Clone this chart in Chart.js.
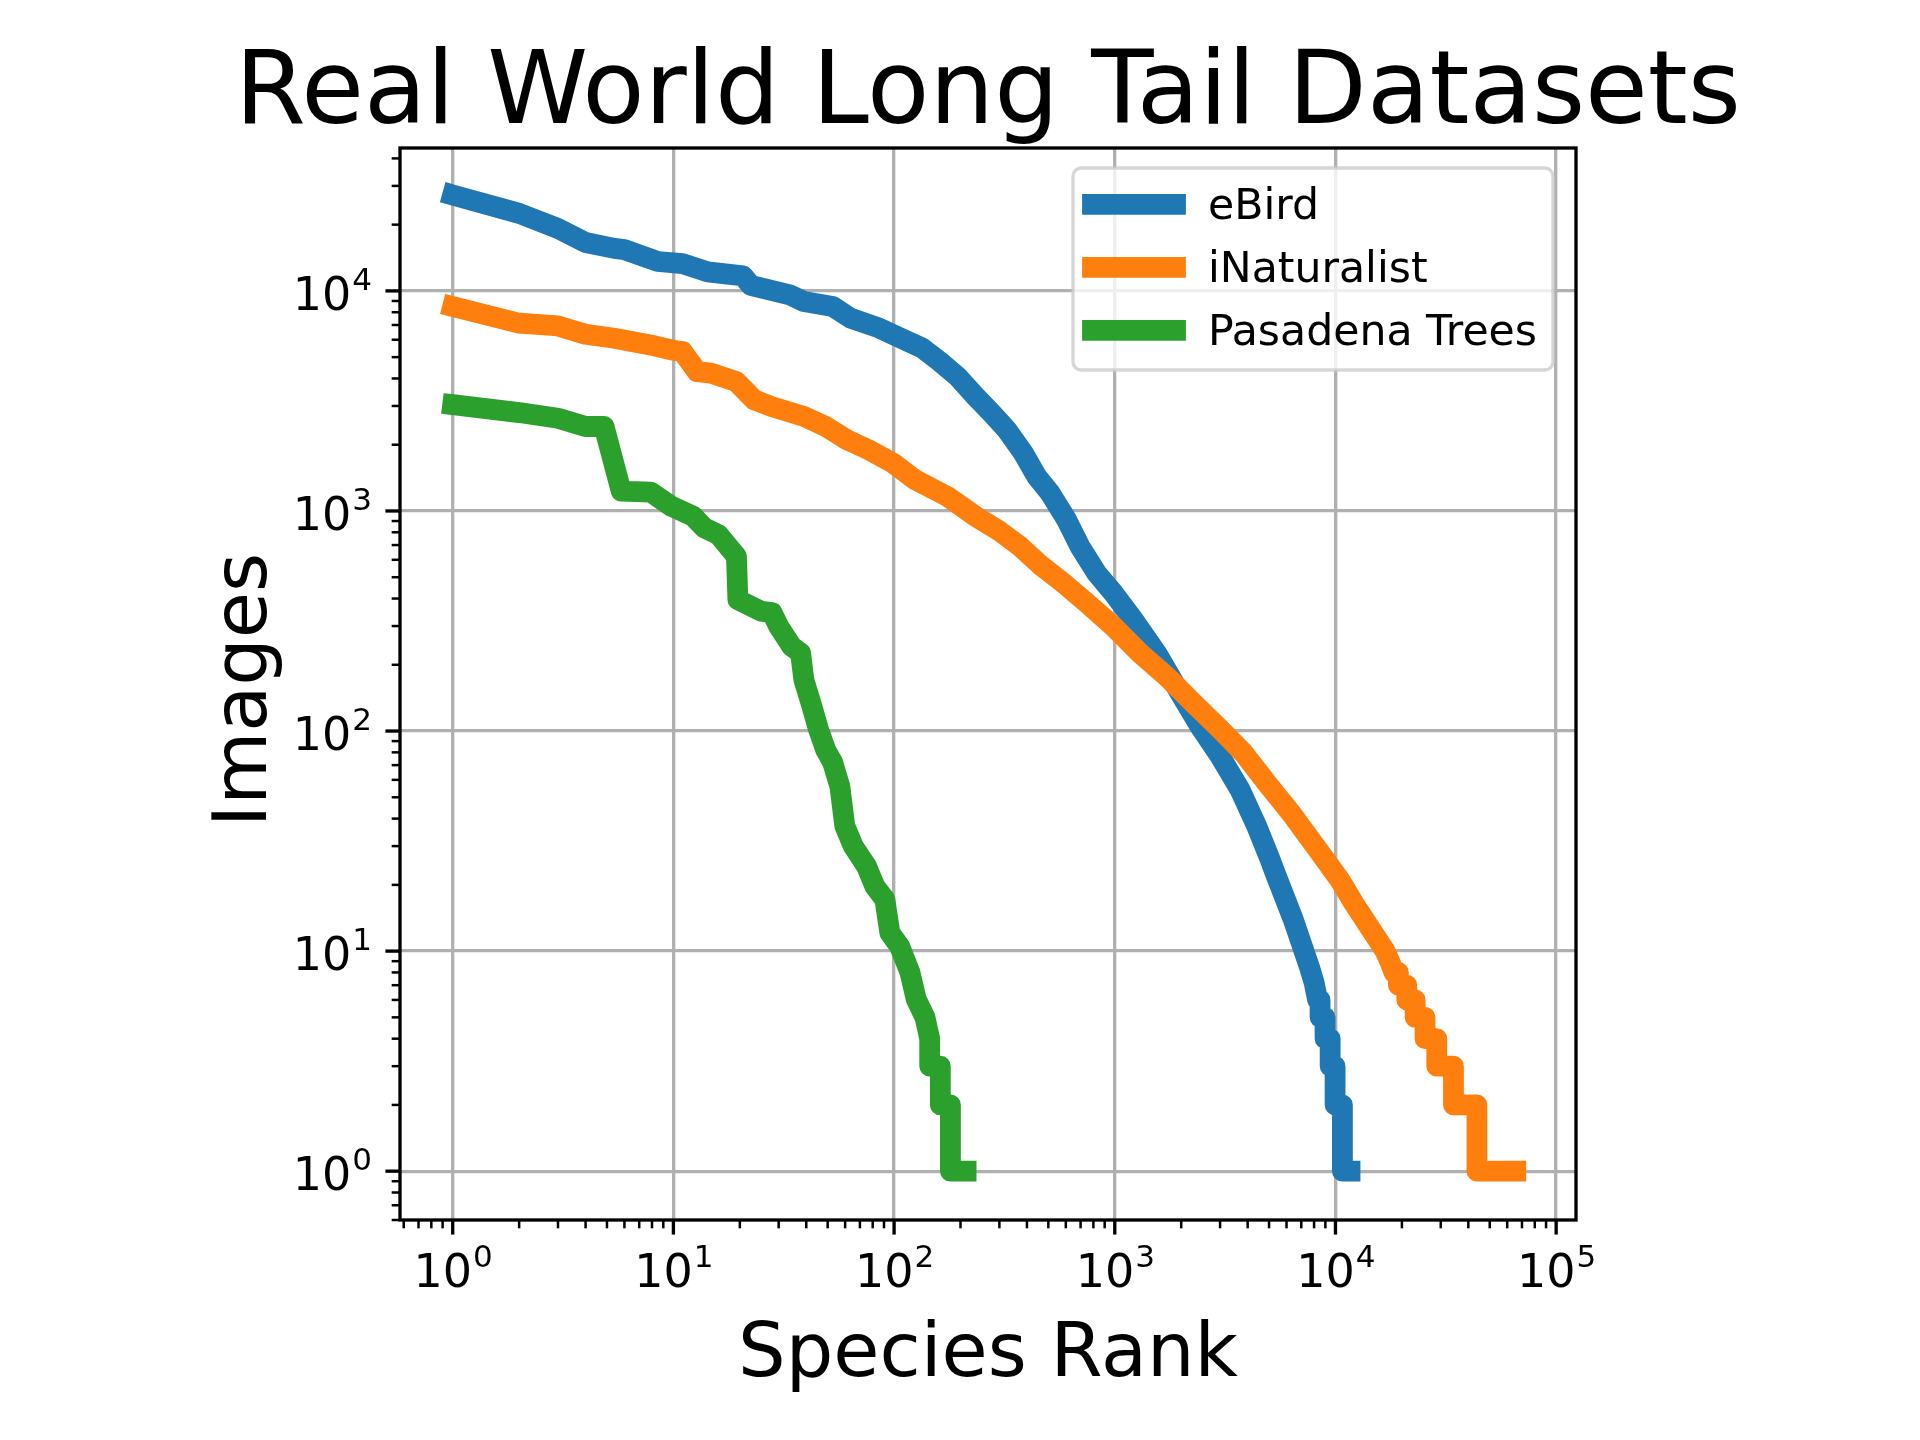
<!DOCTYPE html>
<html>
<head>
<meta charset="utf-8">
<script src="https://cdn.jsdelivr.net/npm/chart.js@4"></script>
<style>
  html, body { margin: 0; padding: 0; background: #ffffff; }
  #wrap { width: 1920px; height: 1440px; position: relative; }
  canvas { display: block; }
</style>
</head>
<body>
<div id="wrap"><canvas id="c" width="1920" height="1440"></canvas></div>
<script>
// ---------------- data ----------------
const chartTitle = 'Real World Long Tail Datasets';
const xAxisLabel = 'Species Rank';
const yAxisLabel = 'Images';
const seriesNames = ['eBird', 'iNaturalist', 'Pasadena Trees'];
const seriesColors = ['#1f77b4', '#ff7f0e', '#2ca02c'];

const ebirdRank = [1, 2, 3, 4, 5.4, 6, 8.5, 11, 14.3, 20.7, 22.4, 33.7, 39, 52.7, 63.5, 85.6, 103, 134, 161, 194, 234, 277, 324, 385, 443, 509, 605, 695, 827, 985, 1212, 1548, 1974, 2432, 3000, 3692, 4396, 5054, 5324, 6440, 7670, 8000, 8300, 8515, 8515, 8970, 8970, 9460, 9460, 9960, 9960, 10750, 10750, 11640];
const ebirdImages = [27300, 22500, 19200, 16600, 15600, 15400, 13600, 13300, 12200, 11700, 10600, 9600, 8950, 8500, 7520, 6780, 6210, 5500, 4780, 4080, 3310, 2780, 2340, 1833, 1435, 1206, 912, 690, 522, 424, 321, 226, 149, 105, 76.9, 54.2, 37.0, 26.1, 22.7, 13.9, 8.3, 7.2, 6, 6, 5, 5, 4, 4, 3, 3, 2, 2, 1, 1];

const inatRank = [1, 2, 3, 4, 5.4, 8.2, 9.8, 11, 12.8, 14.8, 19.3, 23.2, 27.9, 39, 49, 61, 76.5, 99, 124, 174, 234, 302, 372, 458, 584, 746, 985, 1300, 1718, 2270, 3000, 3826, 4880, 6440, 8510, 10480, 12060, 16800, 17600, 18400, 19280, 19280, 21050, 21050, 22960, 22960, 25470, 25470, 28770, 28770, 34250, 34250, 43750, 43750, 65620];
const inatImages = [8490, 7130, 6930, 6350, 6090, 5630, 5390, 5300, 4300, 4230, 3870, 3200, 2980, 2690, 2420, 2110, 1900, 1650, 1390, 1165, 945, 807, 690, 570, 471, 382, 299, 226, 177, 134, 102, 79.6, 58.2, 41.1, 28, 21, 16.6, 10, 9, 8, 8, 7, 7, 6, 6, 5, 5, 4, 4, 3, 3, 2, 2, 1, 1];

const treesRank = [1, 2, 3, 4, 4.85, 5.8, 7.9, 9.8, 12.3, 13.8, 16, 19.3, 19.6, 25, 28, 30, 34.3, 37.7, 39, 42, 45.4, 49, 52.7, 56.8, 59.8, 65.3, 75, 81.8, 90.8, 95.7, 106, 118, 126, 138, 145, 145, 162, 162, 180, 180, 212];
const treesImages = [3040, 2800, 2640, 2420, 2420, 1230, 1217, 1050, 946, 838, 780, 622, 395, 350, 345, 299, 243, 226, 171, 134, 102, 82, 72, 56, 37, 30, 24.3, 19.7, 17.2, 12.1, 10.5, 8.0, 6.04, 5, 4, 3, 3, 2, 2, 1, 1];

const xTickExponents = [0, 1, 2, 3, 4, 5];
const yTickExponents = [0, 1, 2, 3, 4];
const xRange = [0.577, 123000];
const yRange = [0.6, 44600];

// ---------------- build ----------------
const toPoints = (rx, ry) => rx.map((r, i) => ({ x: r, y: ry[i] }));
const seriesData = [
  toPoints(ebirdRank, ebirdImages),
  toPoints(inatRank, inatImages),
  toPoints(treesRank, treesImages)
];

const FONT = '"DejaVu Sans", "Liberation Sans", sans-serif';
const LW = 20.8;

const datasets = seriesNames.map((name, i) => ({
  label: name,
  data: seriesData[i],
  borderColor: seriesColors[i],
  backgroundColor: seriesColors[i],
  borderWidth: LW,
  borderCapStyle: 'square',
  borderJoinStyle: 'round',
  pointRadius: 0,
  pointHoverRadius: 0,
  tension: 0,
  fill: false,
  order: seriesNames.length - i
}));

function drawPow(ctx, exp, x, baseline, align) {
  ctx.font = '46px ' + FONT;
  const w1 = ctx.measureText('10').width;
  ctx.font = '31px ' + FONT;
  const w2 = ctx.measureText(String(exp)).width;
  const total = w1 + w2;
  const x0 = align === 'center' ? x - total / 2 : x - total;
  ctx.textAlign = 'left';
  ctx.textBaseline = 'alphabetic';
  ctx.fillStyle = '#000';
  ctx.font = '46px ' + FONT;
  ctx.fillText('10', x0, baseline);
  ctx.font = '31px ' + FONT;
  ctx.fillText(String(exp), x0 + w1 + 1, baseline - 20);
}

const decor = {
  id: 'decor',
  afterDraw(chart) {
    const { ctx, chartArea: a, scales } = chart;
    const xs = scales.x, ys = scales.y;
    ctx.save();

    // spines
    ctx.strokeStyle = '#000';
    ctx.lineWidth = 3.33;
    ctx.strokeRect(a.left, a.top, a.right - a.left, a.bottom - a.top);

    // tick marks (major + minor)
    const ticksFor = (scale, horizontal) => {
      const lo = Math.floor(Math.log10(scale.min)), hi = Math.ceil(Math.log10(scale.max));
      for (let e = lo; e <= hi; e++) {
        for (let m = 1; m <= 9; m++) {
          const v = m * Math.pow(10, e);
          if (v < scale.min * 0.9999 || v > scale.max * 1.0001) continue;
          const major = m === 1;
          const p = scale.getPixelForValue(v);
          const len = major ? 14.58 : 8.33;
          ctx.lineWidth = major ? 3.33 : 2.5;
          ctx.beginPath();
          if (horizontal) { ctx.moveTo(p, a.bottom); ctx.lineTo(p, a.bottom + len); }
          else { ctx.moveTo(a.left, p); ctx.lineTo(a.left - len, p); }
          ctx.stroke();
        }
      }
    };
    ticksFor(xs, true);
    ticksFor(ys, false);

    // tick labels
    xTickExponents.forEach(e => {
      drawPow(ctx, e, xs.getPixelForValue(Math.pow(10, e)), a.bottom + 67, 'center');
    });
    yTickExponents.forEach(e => {
      drawPow(ctx, e, a.left - 29, ys.getPixelForValue(Math.pow(10, e)) + 19, 'right');
    });

    const cx = (a.left + a.right) / 2;
    ctx.fillStyle = '#000';
    // title
    ctx.font = '102px ' + FONT;
    ctx.textAlign = 'center';
    ctx.textBaseline = 'alphabetic';
    ctx.fillText(chartTitle, cx, a.top - 25);
    // x label
    ctx.font = '75px ' + FONT;
    ctx.fillText(xAxisLabel, cx, a.bottom + 156);
    // y label
    ctx.save();
    ctx.translate(266, (a.top + a.bottom) / 2 + 6);
    ctx.rotate(-Math.PI / 2);
    ctx.fillText(yAxisLabel, 0, 0);
    ctx.restore();

    // legend
    const bx = 1073, by = 168, bw = 480, bh = 202, r = 8.3;
    ctx.beginPath();
    ctx.moveTo(bx + r, by);
    ctx.lineTo(bx + bw - r, by);
    ctx.arcTo(bx + bw, by, bx + bw, by + r, r);
    ctx.lineTo(bx + bw, by + bh - r);
    ctx.arcTo(bx + bw, by + bh, bx + bw - r, by + bh, r);
    ctx.lineTo(bx + r, by + bh);
    ctx.arcTo(bx, by + bh, bx, by + bh - r, r);
    ctx.lineTo(bx, by + r);
    ctx.arcTo(bx, by, bx + r, by, r);
    ctx.closePath();
    ctx.fillStyle = 'rgba(255,255,255,0.8)';
    ctx.fill();
    ctx.strokeStyle = 'rgba(204,204,204,0.8)';
    ctx.lineWidth = 3.33;
    ctx.stroke();

    seriesNames.forEach((name, i) => {
      const yy = 204.3 + i * 63;
      ctx.strokeStyle = seriesColors[i];
      ctx.lineWidth = LW;
      ctx.lineCap = 'square';
      ctx.beginPath();
      ctx.moveTo(1092.5, yy);
      ctx.lineTo(1175.5, yy);
      ctx.stroke();
      ctx.lineCap = 'butt';
      ctx.fillStyle = '#000';
      ctx.font = '42.6px ' + FONT;
      ctx.textAlign = 'left';
      ctx.textBaseline = 'alphabetic';
      ctx.fillText(name, 1208, yy + 14.8);
    });

    ctx.restore();
  }
};

const gridOpts = { color: '#b0b0b0', lineWidth: 3.33, drawTicks: false, drawOnChartArea: true };

new Chart(document.getElementById('c'), {
  type: 'line',
  data: { datasets },
  options: {
    responsive: false,
    maintainAspectRatio: false,
    devicePixelRatio: 1,
    animation: false,
    events: [],
    layout: { padding: { left: 400, right: 344, top: 148, bottom: 220 } },
    plugins: { legend: { display: false }, tooltip: { enabled: false }, title: { display: false } },
    scales: {
      x: {
        type: 'logarithmic',
        min: xRange[0], max: xRange[1],
        afterBuildTicks: s => { s.ticks = xTickExponents.map(e => ({ value: Math.pow(10, e) })); },
        ticks: { display: false },
        grid: gridOpts,
        border: { display: false }
      },
      y: {
        type: 'logarithmic',
        min: yRange[0], max: yRange[1],
        afterBuildTicks: s => { s.ticks = yTickExponents.map(e => ({ value: Math.pow(10, e) })); },
        ticks: { display: false },
        grid: gridOpts,
        border: { display: false }
      }
    }
  },
  plugins: [decor]
});
</script>
</body>
</html>
